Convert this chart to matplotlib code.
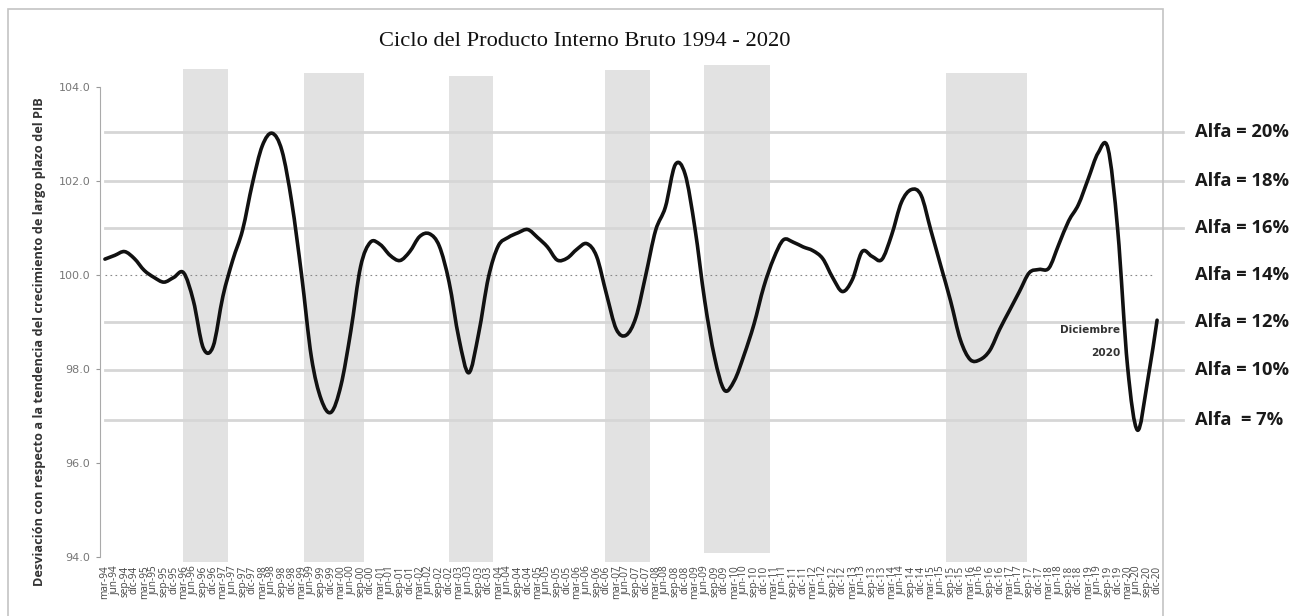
import matplotlib
matplotlib.use("Agg")
import matplotlib.pyplot as plt
import matplotlib.transforms as mtransforms
from matplotlib.patches import Rectangle, PathPatch
from matplotlib.path import Path

# datos: ciclo trimestral del PIB, mar-94 a dic-20
meses = ["mar", "jun", "sep", "dic"]
anios = list(range(1994, 2021))
etiquetas = [f"{m}-{a % 100:02d}" for a in anios for m in meses]

ciclo = [
    100.34, 100.42, 100.50, 100.35,   # 94
    100.10, 99.95, 99.85, 99.95,      # 95
    100.05, 99.45, 98.45, 98.48,      # 96
    99.55, 100.32, 100.96, 101.95,    # 97
    102.75, 103.02, 102.65, 101.55,   # 98
    100.00, 98.25, 97.35, 97.08,      # 99
    97.65, 98.80, 100.18, 100.70,     # 00
    100.65, 100.42, 100.31, 100.50,   # 01
    100.82, 100.88, 100.62, 99.85,    # 02
    98.65, 97.92, 98.75, 99.95,       # 03
    100.62, 100.80, 100.90, 100.97,   # 04
    100.80, 100.60, 100.32, 100.36,   # 05
    100.55, 100.67, 100.40, 99.60,    # 06
    98.85, 98.72, 99.10, 100.00,      # 07
    100.95, 101.45, 102.35, 102.15,   # 08
    101.00, 99.45, 98.25, 97.55,      # 09
    97.75, 98.30, 98.95, 99.75,       # 10
    100.35, 100.75, 100.70, 100.60,   # 11
    100.52, 100.35, 99.95, 99.65,     # 12
    99.90, 100.50, 100.40, 100.33,    # 13
    100.85, 101.55, 101.82, 101.70,   # 14
    100.95, 100.20, 99.45, 98.62,     # 15
    98.20, 98.20, 98.40, 98.85,       # 16
    99.25, 99.65, 100.05, 100.12,     # 17
    100.15, 100.65, 101.15, 101.50,   # 18
    102.05, 102.60, 102.70, 100.95,   # 19
    98.05, 96.70, 97.70, 99.04,       # 20
]

# periodos sombreados (índice trimestral)
banda_ini = [7.9, 20.2, 35.0, 50.9, 60.9, 85.5]
banda_fin = [12.55, 26.3, 39.5, 55.45, 67.65, 93.8]
banda_sup = [104.38, 104.31, 104.24, 104.37, 104.48, 104.31]
banda_inf = [93.9, 93.9, 93.9, 93.9, 94.08, 93.9]

# niveles alfa
alfa_txt = ["Alfa = 20%", "Alfa = 18%", "Alfa = 16%", "Alfa = 14%",
            "Alfa = 12%", "Alfa = 10%", "Alfa  = 7%"]
alfa_val = [103.05, 102.0, 101.0, 100.0, 99.0, 97.98, 96.91]

W, H = 1298, 616
fig = plt.figure(figsize=(W / 100, H / 100), dpi=100)
ax = fig.add_axes([100 / W, 1 - 564 / H, 1062 / W, 505 / H])

# marco exterior
fig.patches.append(Rectangle((8 / W, -0.01), 1155 / W, 1 - 9 / H + 0.01,
                             transform=fig.transFigure, fill=False,
                             edgecolor="#c4c4c4", linewidth=1.2))

for a, b, t, f in zip(banda_ini, banda_fin, banda_sup, banda_inf):
    ax.bar((a + b) / 2, t - f, width=b - a, bottom=f, color="#e2e2e2",
           linewidth=0, zorder=0, clip_on=False)

trans = mtransforms.blended_transform_factory(ax.transAxes, ax.transData)
for txt, v in zip(alfa_txt, alfa_val):
    if v != 100.0:
        ax.plot([0.005, 1.02], [v, v], transform=trans, color="#d6d6d6",
                linewidth=2, zorder=1, clip_on=False)
    ax.text(1.031, v, txt, transform=trans, ha="left", va="center",
            fontsize=13.2, fontweight="bold", family="Open Sans",
            color="#1a1a1a")

ax.plot([0.005, 0.992], [100, 100], transform=trans, color="#888888",
        linewidth=0.8, linestyle=(0, (1.5, 3)), zorder=1)

# curva suavizada (Bezier tipo Catmull-Rom entre los puntos trimestrales)
xs = list(range(len(ciclo)))
verts = [(xs[0], ciclo[0])]
codes = [Path.MOVETO]
n = len(ciclo)
for i in range(n - 1):
    x0, y0 = xs[max(i - 1, 0)], ciclo[max(i - 1, 0)]
    x1, y1 = xs[i], ciclo[i]
    x2, y2 = xs[i + 1], ciclo[i + 1]
    x3, y3 = xs[min(i + 2, n - 1)], ciclo[min(i + 2, n - 1)]
    verts += [(x1 + (x2 - x0) / 6, y1 + (y2 - y0) / 6),
              (x2 - (x3 - x1) / 6, y2 - (y3 - y1) / 6),
              (x2, y2)]
    codes += [Path.CURVE4] * 3
ax.add_patch(PathPatch(Path(verts, codes), fill=False, edgecolor="#111111",
                       linewidth=2.6, capstyle="round", joinstyle="round",
                       zorder=3))

ax.text(103.25, 98.83, "Diciembre", ha="right", va="center", fontsize=7.6,
        color="#333333", family="Liberation Sans Narrow", fontweight="bold")
ax.text(103.25, 98.34, "2020", ha="right", va="center", fontsize=7.6,
        color="#333333", family="Liberation Sans Narrow", fontweight="bold")

ax.set_xlim(-0.5, 107.5)
ax.set_ylim(93.85, 104.6)
ax.set_xticks(xs)
ax.set_xticklabels(etiquetas, rotation=90, fontsize=7.2, color="#444444",
                   family="Open Sans")
ax.tick_params(axis="x", length=0, pad=1)
ax.set_yticks([94, 96, 98, 100, 102, 104])
ax.set_yticklabels([f"{v:.1f}" for v in [94, 96, 98, 100, 102, 104]],
                   fontsize=8, color="#777777", family="Liberation Sans Narrow")
ax.tick_params(axis="y", length=3, color="#999999", pad=4)

for s in ["top", "right", "bottom"]:
    ax.spines[s].set_visible(False)
ax.spines["left"].set_color("#aaaaaa")
ax.spines["left"].set_bounds(94, 104)

fig.text(585 / W, 1 - 42 / H, "Ciclo del Producto Interno Bruto 1994 - 2020",
         ha="center", va="center", fontsize=16.2, family="Liberation Serif",
         color="#111111")
fig.text(40 / W, 1 - 342 / H,
         "Desviación con respecto a la tendencia del crecimiento de largo plazo del PIB",
         rotation=90, ha="center", va="center", fontsize=9.2, fontweight="bold",
         family="Open Sans", color="#333333")

fig.savefig("out.png", dpi=100)
